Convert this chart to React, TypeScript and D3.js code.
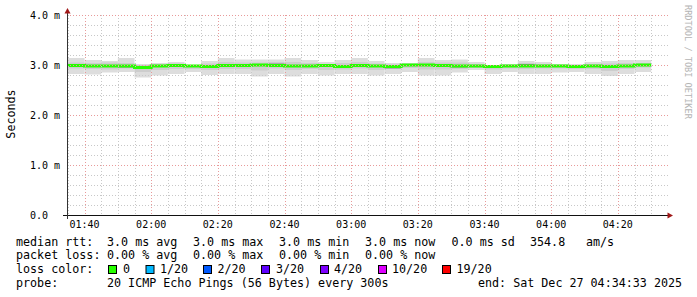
import React from "react";
import * as d3 from "d3";

// ---- data (ms) ----
const blockStarts: string[] = [
  "01:35","01:40","01:45","01:50","01:55","02:00","02:05","02:10","02:15","02:20",
  "02:25","02:30","02:35","02:40","02:45","02:50","02:55","03:00","03:05","03:10",
  "03:15","03:20","03:25","03:30","03:35","03:40","03:45","03:50","03:55","04:00",
  "04:05","04:10","04:15","04:20","04:25",
];
const smokeMax = [3.14,3.10,3.08,3.14,3.02,3.04,3.06,3.00,3.08,3.14,3.11,3.11,3.11,3.14,3.10,3.06,3.10,3.14,3.08,3.04,3.04,3.14,3.10,3.11,3.06,3.00,3.02,3.08,3.06,3.02,3.02,3.06,3.08,3.10,3.10];
const smokeMin = [2.82,2.81,2.85,2.86,2.75,2.79,2.82,2.86,2.80,2.82,2.82,2.77,2.82,2.77,2.82,2.79,2.82,2.82,2.79,2.82,2.86,2.79,2.79,2.85,2.90,2.82,2.86,2.82,2.82,2.85,2.86,2.82,2.78,2.82,2.86];
const midHi = [3.05,3.04,3.05,3.04,3.00,3.02,3.03,2.99,3.03,3.06,3.05,3.05,3.06,3.06,3.04,3.02,3.04,3.06,3.03,3.01,3.02,3.06,3.05,3.05,3.02,2.99,3.00,3.04,3.02,3.00,3.00,3.02,3.03,3.04,3.04];
const midLo = [2.93,2.92,2.91,2.93,2.86,2.90,2.92,2.92,2.90,2.92,2.92,2.89,2.93,2.90,2.92,2.90,2.91,2.93,2.90,2.93,2.94,2.91,2.91,2.92,2.94,2.91,2.93,2.92,2.93,2.93,2.92,2.92,2.88,2.92,2.95];
const darkHi = [2.99,2.98,2.98,2.97,2.95,2.98,2.99,2.98,2.96,2.99,2.99,3.00,3.03,2.98,2.98,2.99,2.96,2.99,2.98,2.96,3.00,3.00,3.02,2.97,2.98,2.97,2.98,3.02,2.98,2.98,2.96,2.98,2.96,2.98,3.00];
const darkLo = [2.99,2.98,2.98,2.95,2.95,2.98,2.99,2.98,2.94,2.99,2.99,3.00,3.01,2.98,2.98,2.99,2.94,2.99,2.98,2.93,3.00,3.00,3.00,2.95,2.98,2.97,2.98,3.00,2.98,2.98,2.94,2.98,2.94,2.98,3.00];
const median = [2.99,2.98,2.98,2.98,2.95,2.98,2.99,2.98,2.97,2.99,2.99,3.00,2.99,2.98,2.98,2.99,2.97,2.99,2.98,2.97,3.00,3.00,2.99,2.98,2.98,2.97,2.98,2.98,2.98,2.98,2.97,2.98,2.97,2.98,3.00];

const yTickValues = [0, 1, 2, 3, 4];
const yTickLabels = ["0.0", "1.0 m", "2.0 m", "3.0 m", "4.0 m"];

const lossLabels = ["0", "1/20", "2/20", "3/20", "4/20", "10/20", "19/20"];
const lossColors = ["#26ff00", "#00b8ff", "#0059ff", "#5e00ff", "#7e00ff", "#dd00ff", "#ff0000"];

const rttLine = ["3.0 ms avg", "3.0 ms max", "3.0 ms min", "3.0 ms now", "0.0 ms sd", "354.8", "am/s"];
const lossLine = ["0.00 % avg", "0.00 % max", "0.00 % min", "0.00 % now"];

const FONT = "'DejaVu Sans Mono', monospace";

function at(hm: string): Date {
  const [h, m] = hm.split(":").map(Number);
  return new Date(2025, 11, 27, h, m, 0);
}

export default function App() {
  const x0 = 67, x1 = 667, yTop = 15, yBot = 215;
  const start = new Date(2025, 11, 27, 1, 34, 45);
  const end = new Date(2025, 11, 27, 4, 34, 45);
  const x = d3.scaleTime().domain([start, end]).range([x0, x1]);
  const y = d3.scaleLinear().domain([0, 4]).range([yBot, yTop]);

  const blocks = blockStarts.map((s, i) => {
    const a = at(s);
    const b = d3.timeMinute.offset(a, 5);
    return { a, b, i };
  });

  const minorX = d3.timeMinute.every(5)!.range(start, end).filter((d) => d.getMinutes() % 20 !== 0);
  const majorX = d3.timeMinute.every(20)!.range(start, end);
  const minorY = d3.range(1, 20).map((k) => k * 0.2).filter((v) => Math.abs(v - Math.round(v)) > 1e-6);
  const majorY = [1, 2, 3, 4];
  const fmt = d3.timeFormat("%H:%M");

  const medPts: [number, number][] = [];
  blocks.forEach(({ a, b, i }) => {
    medPts.push([x(a), y(median[i])]);
    medPts.push([x(b), y(median[i])]);
  });
  const medLine = d3.line()(medPts) || "";

  const band = (hi: number[], lo: number[], fill: string) =>
    blocks.map(({ a, b, i }) => (
      <rect key={fill + i} x={x(a)} width={x(b) - x(a)} y={y(hi[i])} height={Math.max(0, y(lo[i]) - y(hi[i]))} fill={fill} />
    ));

  const rowX = [107, 193, 279, 365, 451.5, 530, 586];
  const boxX = [108, 145.5, 203, 261, 320, 378, 442];
  const lblX = [123, 160, 217.5, 276, 334, 392, 456.5];

  return (
    <svg width={697} height={297} style={{ position: "absolute", left: 0, top: 0, background: "#fff" }}>
      <rect x={0} y={0} width={697} height={297} fill="#fff" />
      {/* smoke */}
      {band(smokeMax, smokeMin, "#dddddd")}
      {band(midHi, midLo, "#cdcdcd")}
      {band(darkHi, darkLo, "#8a8a8a")}
      <path d={medLine} fill="none" stroke="#26ff00" strokeWidth={3} />

      {/* grid */}
      {minorY.map((v) => (
        <line key={"hy" + v} x1={x0} x2={669} y1={Math.round(y(v)) + 0.5} y2={Math.round(y(v)) + 0.5} stroke="#c8c8c8" strokeDasharray="1,2" />
      ))}
      {minorX.map((d) => (
        <line key={"vx" + +d} x1={Math.round(x(d)) + 0.5} x2={Math.round(x(d)) + 0.5} y1={yTop} y2={yBot} stroke="#c8c8c8" strokeDasharray="1,2" />
      ))}
      {majorY.map((v) => (
        <line key={"My" + v} x1={x0} x2={669} y1={Math.round(y(v)) + 0.5} y2={Math.round(y(v)) + 0.5} stroke="#e89a9a" strokeDasharray="1,2" />
      ))}
      {majorX.map((d) => (
        <line key={"Mx" + +d} x1={Math.round(x(d)) + 0.5} x2={Math.round(x(d)) + 0.5} y1={yTop} y2={yBot} stroke="#e89a9a" strokeDasharray="1,2" />
      ))}

      {/* axes */}
      <line x1={63} x2={669} y1={215.5} y2={215.5} stroke="#111" />
      <line x1={67.5} x2={67.5} y1={219} y2={12} stroke="#333" />
      <path d="M67.5,8 L64.5,13.5 L70.5,13.5 Z" fill="#a01818" />
      <path d="M673,215.5 L667.5,212.5 L667.5,218.5 Z" fill="#a01818" />

      {/* tick labels */}
      {yTickValues.map((v, k) => (
        <text key={"yl" + v} x={30} y={y(v) + 3.6} fontFamily={FONT} fontSize={10} fill="#000" xmlSpace="preserve">
          {yTickLabels[k]}
        </text>
      ))}
      {majorX.map((d) => (
        <text key={"xl" + +d} x={x(d)} y={228} textAnchor="middle" fontFamily={FONT} fontSize={10} fill="#000">
          {fmt(d)}
        </text>
      ))}

      {/* y title */}
      <text transform="translate(15,114) rotate(-90)" textAnchor="middle" fontFamily={FONT} fontSize={11.7} fill="#000">
        Seconds
      </text>
      {/* watermark */}
      <text transform="translate(685,5) rotate(90)" fontFamily={FONT} fontSize={8.6} fill="#b4b4b4">
        RRDTOOL / TOBI OETIKER
      </text>

      {/* legend */}
      <g fontFamily={FONT} fontSize={11.7} fill="#000">
        <text x={16} y={245.5}>median rtt:</text>
        {rttLine.map((t, k) => (
          <text key={"r" + k} x={rowX[k]} y={245.5}>{t}</text>
        ))}
        <text x={16} y={259}>packet loss:</text>
        {lossLine.map((t, k) => (
          <text key={"l" + k} x={rowX[k]} y={259}>{t}</text>
        ))}
        <text x={16} y={273}>loss color:</text>
        {lossLabels.map((t, k) => (
          <g key={"c" + k}>
            <rect x={boxX[k] + 0.5} y={265.5} width={8} height={8} fill={lossColors[k]} stroke="#000" />
            <text x={lblX[k]} y={273}>{t}</text>
          </g>
        ))}
        <text x={16} y={287}>probe:</text>
        <text x={107} y={287}>20 ICMP Echo Pings (56 Bytes) every 300s</text>
        <text x={478} y={287}>end: Sat Dec 27 04:34:33 2025</text>
      </g>
    </svg>
  );
}
